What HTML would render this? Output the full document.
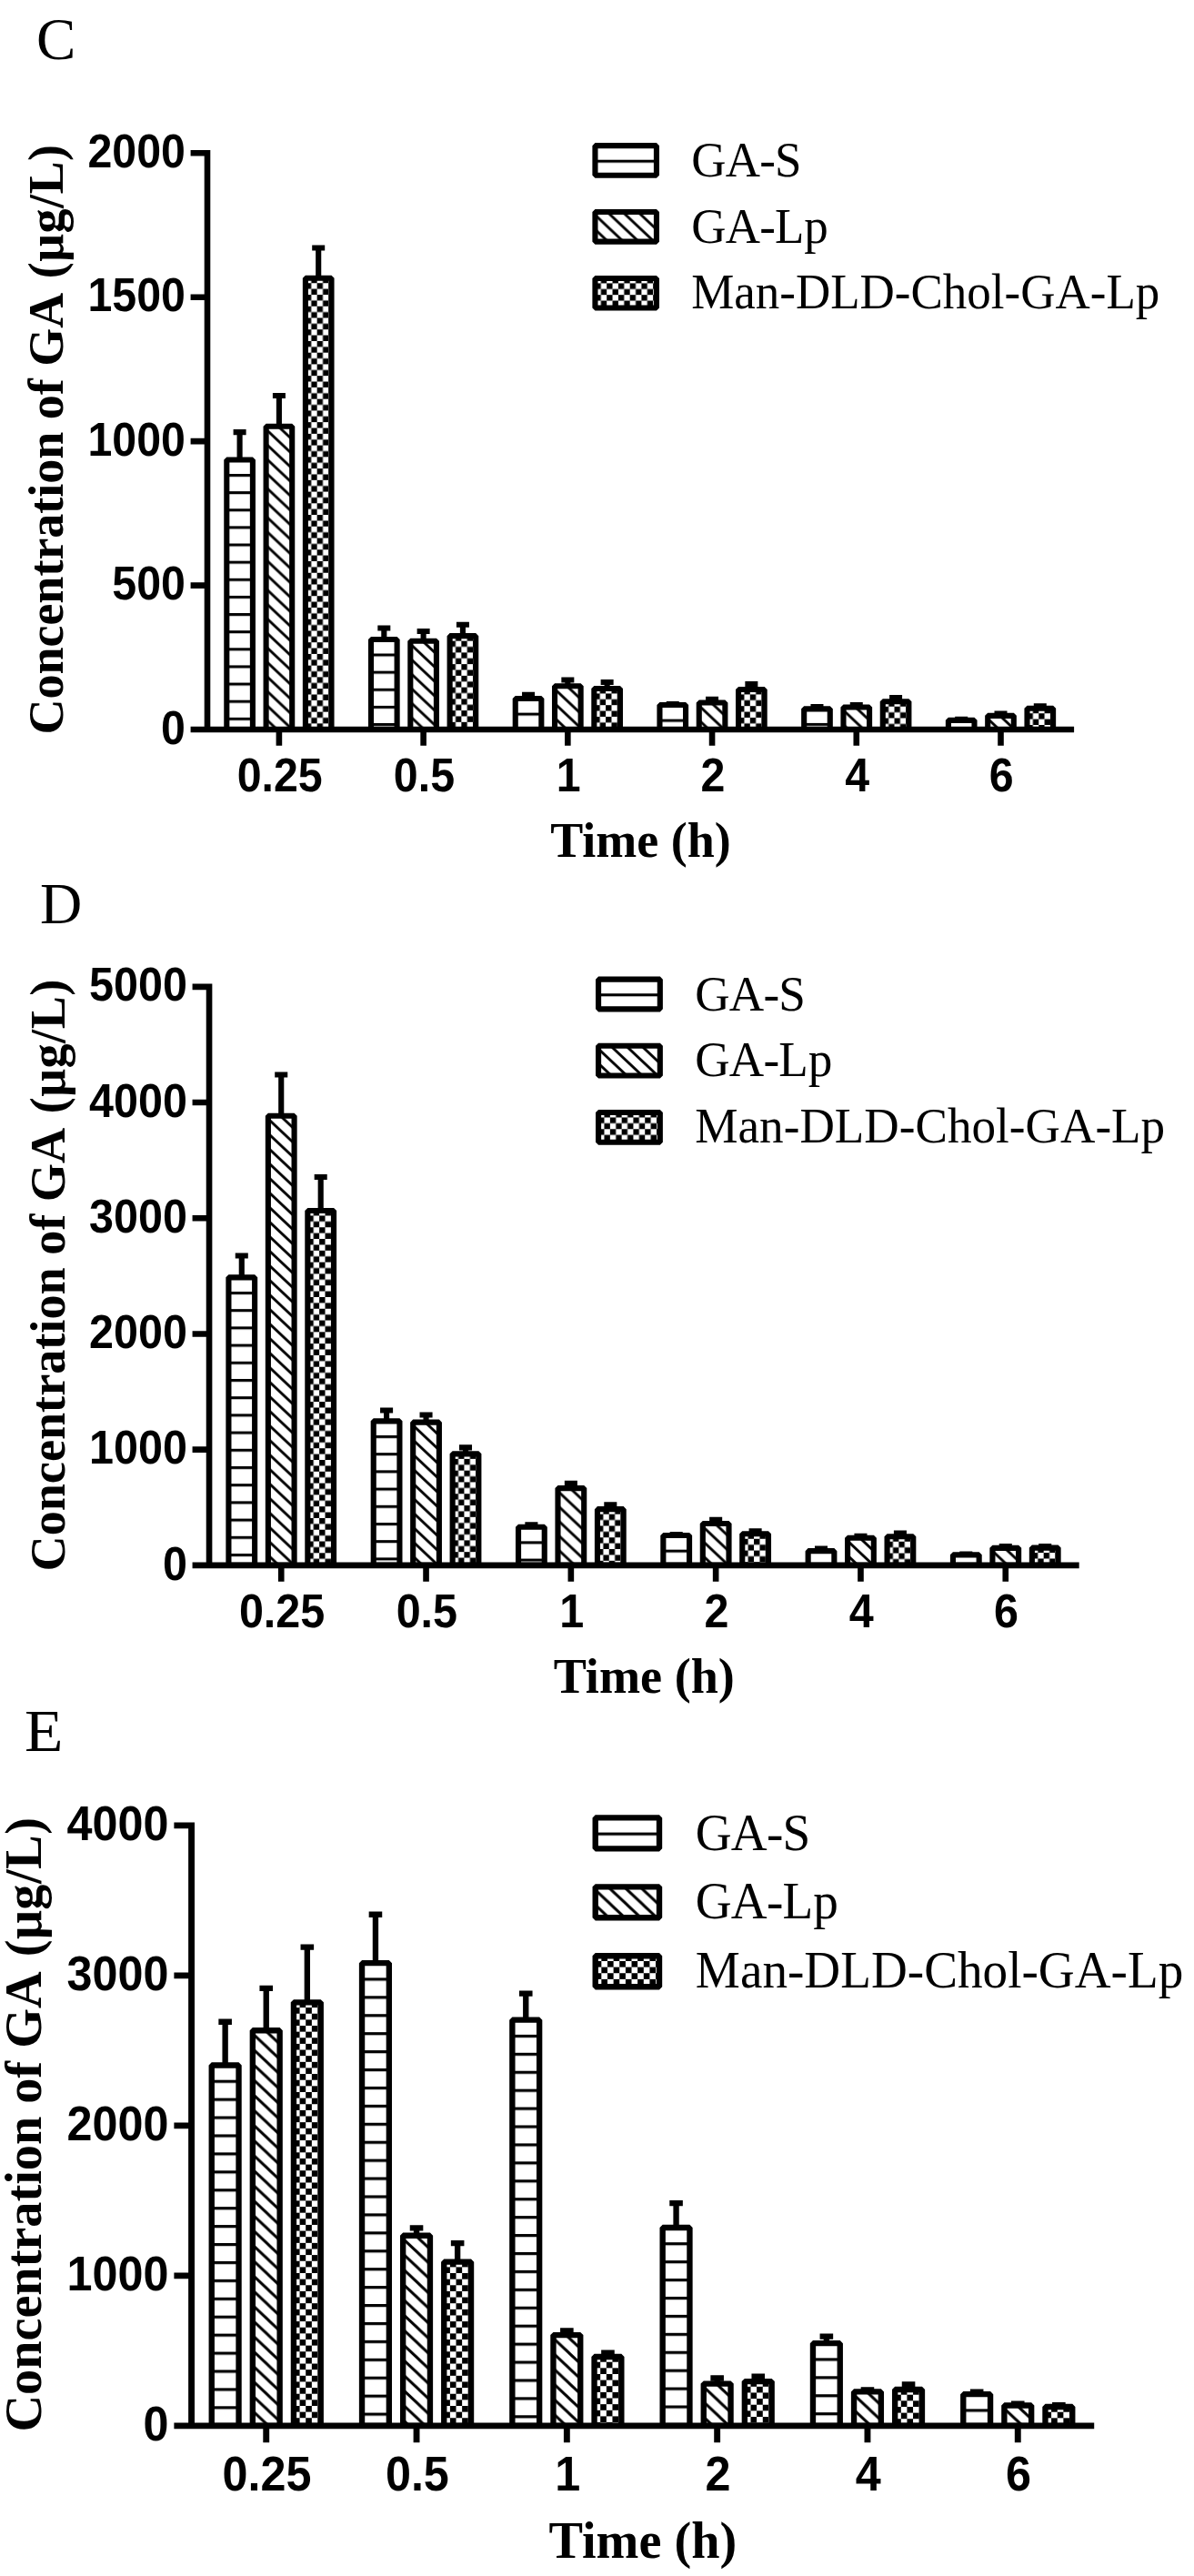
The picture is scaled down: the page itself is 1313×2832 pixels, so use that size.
<!DOCTYPE html>
<html lang="en"><head><meta charset="utf-8"><title>Concentration of GA</title>
<style>html,body{margin:0;padding:0;background:#fff}svg{display:block}.tk{font-family:"Liberation Sans",Arial,sans-serif;font-weight:700;font-size:48.3px}.tt{font-family:"Liberation Serif","Times New Roman",serif;font-weight:700;font-size:54px}.lg{font-family:"Liberation Serif","Times New Roman",serif;font-size:53px}.pl{font-family:"Liberation Serif","Times New Roman",serif}text{fill:#000}</style></head><body>
<svg width="1313" height="2832" viewBox="0 0 1313 2832">
<defs>
<pattern id="ph" patternUnits="userSpaceOnUse" width="40" height="19.13"><rect x="0" y="0" width="40" height="3.1" fill="#000"/></pattern>
<pattern id="pd" patternUnits="userSpaceOnUse" width="16.9" height="15.93"><path d="M-16.9 -15.93 L33.8 31.86 M-16.9 0 L16.9 31.86 M0 -15.93 L33.8 15.93" stroke="#000" stroke-width="2.9" fill="none"/></pattern>
<pattern id="pc" patternUnits="userSpaceOnUse" width="12.74" height="12.74"><rect x="0" y="0" width="6.37" height="6.37" fill="#000"/><rect x="6.37" y="6.37" width="6.37" height="6.37" fill="#000"/></pattern>
</defs>
<rect width="1313" height="2832" fill="#fff"/>
<g transform="translate(0 0) scale(1.0000)">
<defs><pattern id="p1" href="#ph" x="0" y="521"/><pattern id="p2" href="#pd" x="292.6" y="472.05"/><pattern id="p3" href="#pc" x="335.9" y="311.25"/><pattern id="p4" href="#ph" x="0" y="718.5"/><pattern id="p5" href="#pd" x="451.32" y="708.05"/><pattern id="p6" href="#pc" x="494.62" y="704.65"/><pattern id="p7" href="#ph" x="0" y="783.6"/><pattern id="p8" href="#pd" x="610.04" y="757.55"/><pattern id="p9" href="#pc" x="653.34" y="762.45"/><pattern id="p10" href="#ph" x="0" y="790.6"/><pattern id="p11" href="#pd" x="768.76" y="775.85"/><pattern id="p12" href="#pc" x="812.06" y="763.45"/><pattern id="p13" href="#ph" x="0" y="794.9"/><pattern id="p14" href="#pd" x="927.48" y="780.85"/><pattern id="p15" href="#pc" x="970.78" y="776.75"/><pattern id="p16" href="#ph" x="0" y="807.4"/><pattern id="p17" href="#pd" x="1086.2" y="790.15"/><pattern id="p18" href="#pc" x="1129.5" y="784.25"/></defs>
<path d="M263.6 505.45 V475.15 M256.6 475.15 H270.6" stroke="#000" fill="none" stroke-width="6.1"/>
<rect x="249.3" y="505.45" width="28.6" height="296.55" fill="#fff"/>
<rect x="249.3" y="505.45" width="28.6" height="296.55" fill="url(#p1)" stroke="#000" stroke-width="6.1" stroke-linejoin="bevel"/>
<path d="M306.9 468.75 V434.95 M299.9 434.95 H313.9" stroke="#000" fill="none" stroke-width="6.1"/>
<rect x="292.6" y="468.75" width="28.6" height="333.25" fill="#fff"/>
<rect x="292.6" y="468.75" width="28.6" height="333.25" fill="url(#p2)" stroke="#000" stroke-width="6.1" stroke-linejoin="bevel"/>
<path d="M350.2 305.75 V272.55 M343.2 272.55 H357.2" stroke="#000" fill="none" stroke-width="6.1"/>
<rect x="335.9" y="305.75" width="28.6" height="496.25" fill="#fff"/>
<rect x="335.9" y="305.75" width="28.6" height="496.25" fill="url(#p3)" stroke="#000" stroke-width="6.1" stroke-linejoin="bevel"/>
<path d="M422.32 702.95 V690.45 M415.32 690.45 H429.32" stroke="#000" fill="none" stroke-width="6.1"/>
<rect x="408.02" y="702.95" width="28.6" height="99.05" fill="#fff"/>
<rect x="408.02" y="702.95" width="28.6" height="99.05" fill="url(#p4)" stroke="#000" stroke-width="6.1" stroke-linejoin="bevel"/>
<path d="M465.62 704.75 V694.05 M458.62 694.05 H472.62" stroke="#000" fill="none" stroke-width="6.1"/>
<rect x="451.32" y="704.75" width="28.6" height="97.25" fill="#fff"/>
<rect x="451.32" y="704.75" width="28.6" height="97.25" fill="url(#p5)" stroke="#000" stroke-width="6.1" stroke-linejoin="bevel"/>
<path d="M508.92 699.15 V686.75 M501.92 686.75 H515.92" stroke="#000" fill="none" stroke-width="6.1"/>
<rect x="494.62" y="699.15" width="28.6" height="102.85" fill="#fff"/>
<rect x="494.62" y="699.15" width="28.6" height="102.85" fill="url(#p6)" stroke="#000" stroke-width="6.1" stroke-linejoin="bevel"/>
<path d="M581.04 768.05 V763.85 M574.04 763.85 H588.04" stroke="#000" fill="none" stroke-width="6.1"/>
<rect x="566.74" y="768.05" width="28.6" height="33.95" fill="#fff"/>
<rect x="566.74" y="768.05" width="28.6" height="33.95" fill="url(#p7)" stroke="#000" stroke-width="6.1" stroke-linejoin="bevel"/>
<path d="M624.34 754.25 V747.55 M617.34 747.55 H631.34" stroke="#000" fill="none" stroke-width="6.1"/>
<rect x="610.04" y="754.25" width="28.6" height="47.75" fill="#fff"/>
<rect x="610.04" y="754.25" width="28.6" height="47.75" fill="url(#p8)" stroke="#000" stroke-width="6.1" stroke-linejoin="bevel"/>
<path d="M667.64 756.95 V750.05 M660.64 750.05 H674.64" stroke="#000" fill="none" stroke-width="6.1"/>
<rect x="653.34" y="756.95" width="28.6" height="45.05" fill="#fff"/>
<rect x="653.34" y="756.95" width="28.6" height="45.05" fill="url(#p9)" stroke="#000" stroke-width="6.1" stroke-linejoin="bevel"/>
<path d="M739.76 775.05 V773.95 M732.76 773.95 H746.76" stroke="#000" fill="none" stroke-width="6.1"/>
<rect x="725.46" y="775.05" width="28.6" height="26.95" fill="#fff"/>
<rect x="725.46" y="775.05" width="28.6" height="26.95" fill="url(#p10)" stroke="#000" stroke-width="6.1" stroke-linejoin="bevel"/>
<path d="M783.06 772.55 V768.85 M776.06 768.85 H790.06" stroke="#000" fill="none" stroke-width="6.1"/>
<rect x="768.76" y="772.55" width="28.6" height="29.45" fill="#fff"/>
<rect x="768.76" y="772.55" width="28.6" height="29.45" fill="url(#p11)" stroke="#000" stroke-width="6.1" stroke-linejoin="bevel"/>
<path d="M826.36 757.95 V752.05 M819.36 752.05 H833.36" stroke="#000" fill="none" stroke-width="6.1"/>
<rect x="812.06" y="757.95" width="28.6" height="44.05" fill="#fff"/>
<rect x="812.06" y="757.95" width="28.6" height="44.05" fill="url(#p12)" stroke="#000" stroke-width="6.1" stroke-linejoin="bevel"/>
<path d="M898.48 779.35 V777.15 M891.48 777.15 H905.48" stroke="#000" fill="none" stroke-width="6.1"/>
<rect x="884.18" y="779.35" width="28.6" height="22.65" fill="#fff"/>
<rect x="884.18" y="779.35" width="28.6" height="22.65" fill="url(#p13)" stroke="#000" stroke-width="6.1" stroke-linejoin="bevel"/>
<path d="M941.78 777.55 V775.15 M934.78 775.15 H948.78" stroke="#000" fill="none" stroke-width="6.1"/>
<rect x="927.48" y="777.55" width="28.6" height="24.45" fill="#fff"/>
<rect x="927.48" y="777.55" width="28.6" height="24.45" fill="url(#p14)" stroke="#000" stroke-width="6.1" stroke-linejoin="bevel"/>
<path d="M985.08 771.25 V767.15 M978.08 767.15 H992.08" stroke="#000" fill="none" stroke-width="6.1"/>
<rect x="970.78" y="771.25" width="28.6" height="30.75" fill="#fff"/>
<rect x="970.78" y="771.25" width="28.6" height="30.75" fill="url(#p15)" stroke="#000" stroke-width="6.1" stroke-linejoin="bevel"/>
<path d="M1057.2 791.85 V790.75 M1050.2 790.75 H1064.2" stroke="#000" fill="none" stroke-width="6.1"/>
<rect x="1042.9" y="791.85" width="28.6" height="10.15" fill="#fff"/>
<rect x="1042.9" y="791.85" width="28.6" height="10.15" fill="url(#p16)" stroke="#000" stroke-width="6.1" stroke-linejoin="bevel"/>
<path d="M1100.5 786.85 V784.45 M1093.5 784.45 H1107.5" stroke="#000" fill="none" stroke-width="6.1"/>
<rect x="1086.2" y="786.85" width="28.6" height="15.15" fill="#fff"/>
<rect x="1086.2" y="786.85" width="28.6" height="15.15" fill="url(#p17)" stroke="#000" stroke-width="6.1" stroke-linejoin="bevel"/>
<path d="M1143.8 778.75 V776.35 M1136.8 776.35 H1150.8" stroke="#000" fill="none" stroke-width="6.1"/>
<rect x="1129.5" y="778.75" width="28.6" height="23.25" fill="#fff"/>
<rect x="1129.5" y="778.75" width="28.6" height="23.25" fill="url(#p18)" stroke="#000" stroke-width="6.1" stroke-linejoin="bevel"/>
<path d="M209.6 168.3 H228 V802 M209.6 802 H1181.1" stroke="#000" stroke-width="6.6" fill="none" stroke-linejoin="miter"/>
<path d="M209.6 326.73 H228 M209.6 485.15 H228 M209.6 643.58 H228 M306.9 802 V819.7 M465.62 802 V819.7 M624.34 802 V819.7 M783.06 802 V819.7 M941.78 802 V819.7 M1100.5 802 V819.7" stroke="#000" stroke-width="6.6" fill="none"/>
<text class="tk" text-anchor="end" transform="translate(203.9 183.9) scale(1 1.06)">2000</text>
<text class="tk" text-anchor="end" transform="translate(203.9 342.33) scale(1 1.06)">1500</text>
<text class="tk" text-anchor="end" transform="translate(203.9 500.75) scale(1 1.06)">1000</text>
<text class="tk" text-anchor="end" transform="translate(203.9 659.18) scale(1 1.06)">500</text>
<text class="tk" text-anchor="end" transform="translate(203.9 817.6) scale(1 1.06)">0</text>
<text class="tk" text-anchor="middle" transform="translate(307.7 870.2) scale(1 1.06)">0.25</text>
<text class="tk" text-anchor="middle" transform="translate(466.42 870.2) scale(1 1.06)">0.5</text>
<text class="tk" text-anchor="middle" transform="translate(625.14 870.2) scale(1 1.06)">1</text>
<text class="tk" text-anchor="middle" transform="translate(783.86 870.2) scale(1 1.06)">2</text>
<text class="tk" text-anchor="middle" transform="translate(942.58 870.2) scale(1 1.06)">4</text>
<text class="tk" text-anchor="middle" transform="translate(1101.3 870.2) scale(1 1.06)">6</text>
<text class="tt" text-anchor="middle" x="704.5" y="941.6">Time (h)</text>
<text class="tt" transform="translate(68.9 807.6) rotate(-90)" x="0" y="0">Concentration of GA <tspan dx="5" letter-spacing="0.5">(μg/L)</tspan></text>
<defs><pattern id="p19" href="#ph" x="0" y="175.7"/></defs>
<rect x="654.45" y="160.15" width="67.5" height="32.6" fill="url(#p19)" stroke="#000" stroke-width="6.1" stroke-linejoin="bevel"/>
<text class="lg" transform="translate(760.2 194) scale(1 1.035)"><tspan letter-spacing="-0.8">GA-</tspan>S</text>
<defs><pattern id="p20" href="#pd" x="654.45" y="236.35"/></defs>
<rect x="654.45" y="233.05" width="67.5" height="32.6" fill="url(#p20)" stroke="#000" stroke-width="6.1" stroke-linejoin="bevel"/>
<text class="lg" transform="translate(760.2 266.6) scale(1 1.035)"><tspan letter-spacing="-0.8">GA-</tspan>Lp</text>
<defs><pattern id="p21" href="#pc" x="654.45" y="311.45"/></defs>
<rect x="654.45" y="305.95" width="67.5" height="32.6" fill="url(#p21)" stroke="#000" stroke-width="6.1" stroke-linejoin="bevel"/>
<text class="lg" transform="translate(760.2 339.2) scale(1 1.035)">Man-DLD-Chol-GA-Lp</text>
</g>
<text class="pl" font-size="65" transform="translate(40.1 64.75) scale(1 1)">C</text>
<g transform="translate(1.2 915.9) scale(1.0037)">
<defs><pattern id="p22" href="#ph" x="0" y="502.21"/><pattern id="p23" href="#pd" x="292.6" y="313.02"/><pattern id="p24" href="#pc" x="335.9" y="419.03"/><pattern id="p25" href="#ph" x="0" y="659.63"/><pattern id="p26" href="#pd" x="451.32" y="648.67"/><pattern id="p27" href="#pc" x="494.62" y="685.45"/><pattern id="p28" href="#ph" x="0" y="775.6"/><pattern id="p29" href="#pd" x="610.04" y="720.81"/><pattern id="p30" href="#pc" x="653.34" y="746.02"/><pattern id="p31" href="#ph" x="0" y="784.86"/><pattern id="p32" href="#pd" x="768.76" y="759.56"/><pattern id="p33" href="#pc" x="812.06" y="773.02"/><pattern id="p34" href="#ph" x="0" y="801.9"/><pattern id="p35" href="#pd" x="927.48" y="775.3"/><pattern id="p36" href="#pc" x="970.78" y="776.01"/><pattern id="p37" href="#ph" x="0" y="806.09"/><pattern id="p38" href="#pd" x="1086.2" y="786.36"/><pattern id="p39" href="#pc" x="1129.5" y="788.27"/></defs>
<path d="M263.6 486.66 V462.95 M256.6 462.95 H270.6" stroke="#000" fill="none" stroke-width="6.1"/>
<rect x="249.3" y="486.66" width="28.6" height="315.34" fill="#fff"/>
<rect x="249.3" y="486.66" width="28.6" height="315.34" fill="url(#p22)" stroke="#000" stroke-width="6.1" stroke-linejoin="bevel"/>
<path d="M306.9 309.72 V264.68 M299.9 264.68 H313.9" stroke="#000" fill="none" stroke-width="6.1"/>
<rect x="292.6" y="309.72" width="28.6" height="492.28" fill="#fff"/>
<rect x="292.6" y="309.72" width="28.6" height="492.28" fill="url(#p23)" stroke="#000" stroke-width="6.1" stroke-linejoin="bevel"/>
<path d="M350.2 413.53 V376.67 M343.2 376.67 H357.2" stroke="#000" fill="none" stroke-width="6.1"/>
<rect x="335.9" y="413.53" width="28.6" height="388.47" fill="#fff"/>
<rect x="335.9" y="413.53" width="28.6" height="388.47" fill="url(#p24)" stroke="#000" stroke-width="6.1" stroke-linejoin="bevel"/>
<path d="M422.32 644.08 V632.22 M415.32 632.22 H429.32" stroke="#000" fill="none" stroke-width="6.1"/>
<rect x="408.02" y="644.08" width="28.6" height="157.92" fill="#fff"/>
<rect x="408.02" y="644.08" width="28.6" height="157.92" fill="url(#p25)" stroke="#000" stroke-width="6.1" stroke-linejoin="bevel"/>
<path d="M465.62 645.37 V637.2 M458.62 637.2 H472.62" stroke="#000" fill="none" stroke-width="6.1"/>
<rect x="451.32" y="645.37" width="28.6" height="156.63" fill="#fff"/>
<rect x="451.32" y="645.37" width="28.6" height="156.63" fill="url(#p26)" stroke="#000" stroke-width="6.1" stroke-linejoin="bevel"/>
<path d="M508.92 679.95 V672.97 M501.92 672.97 H515.92" stroke="#000" fill="none" stroke-width="6.1"/>
<rect x="494.62" y="679.95" width="28.6" height="122.05" fill="#fff"/>
<rect x="494.62" y="679.95" width="28.6" height="122.05" fill="url(#p27)" stroke="#000" stroke-width="6.1" stroke-linejoin="bevel"/>
<path d="M581.04 760.05 V757.66 M574.04 757.66 H588.04" stroke="#000" fill="none" stroke-width="6.1"/>
<rect x="566.74" y="760.05" width="28.6" height="41.95" fill="#fff"/>
<rect x="566.74" y="760.05" width="28.6" height="41.95" fill="url(#p28)" stroke="#000" stroke-width="6.1" stroke-linejoin="bevel"/>
<path d="M624.34 717.51 V712.33 M617.34 712.33 H631.34" stroke="#000" fill="none" stroke-width="6.1"/>
<rect x="610.04" y="717.51" width="28.6" height="84.49" fill="#fff"/>
<rect x="610.04" y="717.51" width="28.6" height="84.49" fill="url(#p29)" stroke="#000" stroke-width="6.1" stroke-linejoin="bevel"/>
<path d="M667.64 740.52 V735.64 M660.64 735.64 H674.64" stroke="#000" fill="none" stroke-width="6.1"/>
<rect x="653.34" y="740.52" width="28.6" height="61.48" fill="#fff"/>
<rect x="653.34" y="740.52" width="28.6" height="61.48" fill="url(#p30)" stroke="#000" stroke-width="6.1" stroke-linejoin="bevel"/>
<path d="M739.76 769.31 V768.42 M732.76 768.42 H746.76" stroke="#000" fill="none" stroke-width="6.1"/>
<rect x="725.46" y="769.31" width="28.6" height="32.69" fill="#fff"/>
<rect x="725.46" y="769.31" width="28.6" height="32.69" fill="url(#p31)" stroke="#000" stroke-width="6.1" stroke-linejoin="bevel"/>
<path d="M783.06 756.26 V752.08 M776.06 752.08 H790.06" stroke="#000" fill="none" stroke-width="6.1"/>
<rect x="768.76" y="756.26" width="28.6" height="45.74" fill="#fff"/>
<rect x="768.76" y="756.26" width="28.6" height="45.74" fill="url(#p32)" stroke="#000" stroke-width="6.1" stroke-linejoin="bevel"/>
<path d="M826.36 767.52 V764.63 M819.36 764.63 H833.36" stroke="#000" fill="none" stroke-width="6.1"/>
<rect x="812.06" y="767.52" width="28.6" height="34.48" fill="#fff"/>
<rect x="812.06" y="767.52" width="28.6" height="34.48" fill="url(#p33)" stroke="#000" stroke-width="6.1" stroke-linejoin="bevel"/>
<path d="M898.48 786.35 V783.86 M891.48 783.86 H905.48" stroke="#000" fill="none" stroke-width="6.1"/>
<rect x="884.18" y="786.35" width="28.6" height="15.65" fill="#fff"/>
<rect x="884.18" y="786.35" width="28.6" height="15.65" fill="url(#p34)" stroke="#000" stroke-width="6.1" stroke-linejoin="bevel"/>
<path d="M941.78 772 V770.11 M934.78 770.11 H948.78" stroke="#000" fill="none" stroke-width="6.1"/>
<rect x="927.48" y="772" width="28.6" height="30" fill="#fff"/>
<rect x="927.48" y="772" width="28.6" height="30" fill="url(#p35)" stroke="#000" stroke-width="6.1" stroke-linejoin="bevel"/>
<path d="M985.08 770.51 V766.92 M978.08 766.92 H992.08" stroke="#000" fill="none" stroke-width="6.1"/>
<rect x="970.78" y="770.51" width="28.6" height="31.49" fill="#fff"/>
<rect x="970.78" y="770.51" width="28.6" height="31.49" fill="url(#p36)" stroke="#000" stroke-width="6.1" stroke-linejoin="bevel"/>
<path d="M1057.2 790.54 V789.64 M1050.2 789.64 H1064.2" stroke="#000" fill="none" stroke-width="6.1"/>
<rect x="1042.9" y="790.54" width="28.6" height="11.46" fill="#fff"/>
<rect x="1042.9" y="790.54" width="28.6" height="11.46" fill="url(#p37)" stroke="#000" stroke-width="6.1" stroke-linejoin="bevel"/>
<path d="M1100.5 783.06 V781.37 M1093.5 781.37 H1107.5" stroke="#000" fill="none" stroke-width="6.1"/>
<rect x="1086.2" y="783.06" width="28.6" height="18.94" fill="#fff"/>
<rect x="1086.2" y="783.06" width="28.6" height="18.94" fill="url(#p38)" stroke="#000" stroke-width="6.1" stroke-linejoin="bevel"/>
<path d="M1143.8 782.77 V781.37 M1136.8 781.37 H1150.8" stroke="#000" fill="none" stroke-width="6.1"/>
<rect x="1129.5" y="782.77" width="28.6" height="19.23" fill="#fff"/>
<rect x="1129.5" y="782.77" width="28.6" height="19.23" fill="url(#p39)" stroke="#000" stroke-width="6.1" stroke-linejoin="bevel"/>
<path d="M209.6 168.3 H228 V802 M209.6 802 H1181.1" stroke="#000" stroke-width="6.6" fill="none" stroke-linejoin="miter"/>
<path d="M209.6 295.04 H228 M209.6 421.78 H228 M209.6 548.52 H228 M209.6 675.26 H228 M306.9 802 V819.7 M465.62 802 V819.7 M624.34 802 V819.7 M783.06 802 V819.7 M941.78 802 V819.7 M1100.5 802 V819.7" stroke="#000" stroke-width="6.6" fill="none"/>
<text class="tk" text-anchor="end" transform="translate(203.9 183.9) scale(1 1.06)">5000</text>
<text class="tk" text-anchor="end" transform="translate(203.9 310.64) scale(1 1.06)">4000</text>
<text class="tk" text-anchor="end" transform="translate(203.9 437.38) scale(1 1.06)">3000</text>
<text class="tk" text-anchor="end" transform="translate(203.9 564.12) scale(1 1.06)">2000</text>
<text class="tk" text-anchor="end" transform="translate(203.9 690.86) scale(1 1.06)">1000</text>
<text class="tk" text-anchor="end" transform="translate(203.9 817.6) scale(1 1.06)">0</text>
<text class="tk" text-anchor="middle" transform="translate(307.7 870.2) scale(1 1.06)">0.25</text>
<text class="tk" text-anchor="middle" transform="translate(466.42 870.2) scale(1 1.06)">0.5</text>
<text class="tk" text-anchor="middle" transform="translate(625.14 870.2) scale(1 1.06)">1</text>
<text class="tk" text-anchor="middle" transform="translate(783.86 870.2) scale(1 1.06)">2</text>
<text class="tk" text-anchor="middle" transform="translate(942.58 870.2) scale(1 1.06)">4</text>
<text class="tk" text-anchor="middle" transform="translate(1101.3 870.2) scale(1 1.06)">6</text>
<text class="tt" text-anchor="middle" x="704.5" y="941.6">Time (h)</text>
<text class="tt" transform="translate(69.8 808.6) rotate(-90)" x="0" y="0">Concentration of GA <tspan dx="5" letter-spacing="0.5">(μg/L)</tspan></text>
<defs><pattern id="p40" href="#ph" x="0" y="175.7"/></defs>
<rect x="654.45" y="160.15" width="67.5" height="32.6" fill="url(#p40)" stroke="#000" stroke-width="6.1" stroke-linejoin="bevel"/>
<text class="lg" transform="translate(760.2 194) scale(1 1.035)"><tspan letter-spacing="-0.8">GA-</tspan>S</text>
<defs><pattern id="p41" href="#pd" x="654.45" y="236.35"/></defs>
<rect x="654.45" y="233.05" width="67.5" height="32.6" fill="url(#p41)" stroke="#000" stroke-width="6.1" stroke-linejoin="bevel"/>
<text class="lg" transform="translate(760.2 266.6) scale(1 1.035)"><tspan letter-spacing="-0.8">GA-</tspan>Lp</text>
<defs><pattern id="p42" href="#pc" x="654.45" y="311.45"/></defs>
<rect x="654.45" y="305.95" width="67.5" height="32.6" fill="url(#p42)" stroke="#000" stroke-width="6.1" stroke-linejoin="bevel"/>
<text class="lg" transform="translate(760.2 339.2) scale(1 1.035)">Man-DLD-Chol-GA-Lp</text>
</g>
<text class="pl" font-size="64" transform="translate(44 1015.2) scale(1 1)">D</text>
<g transform="translate(-26.9 1831.6) scale(1.0415)">
<defs><pattern id="p43" href="#ph" x="0" y="436.94"/><pattern id="p44" href="#pd" x="292.6" y="388.01"/><pattern id="p45" href="#pc" x="335.9" y="360.54"/><pattern id="p46" href="#ph" x="0" y="329.11"/><pattern id="p47" href="#pd" x="451.32" y="604.53"/><pattern id="p48" href="#pc" x="494.62" y="634.47"/><pattern id="p49" href="#ph" x="0" y="389.12"/><pattern id="p50" href="#pd" x="610.04" y="709.47"/><pattern id="p51" href="#pc" x="653.34" y="734.62"/><pattern id="p52" href="#ph" x="0" y="608.33"/><pattern id="p53" href="#pd" x="768.76" y="760.84"/><pattern id="p54" href="#pc" x="812.06" y="760.64"/><pattern id="p55" href="#ph" x="0" y="730.46"/><pattern id="p56" href="#pd" x="927.48" y="769.29"/><pattern id="p57" href="#pc" x="970.78" y="769.18"/><pattern id="p58" href="#ph" x="0" y="784.23"/><pattern id="p59" href="#pd" x="1086.2" y="783.79"/><pattern id="p60" href="#pc" x="1129.5" y="787.43"/></defs>
<path d="M263.6 421.39 V375.59 M256.6 375.59 H270.6" stroke="#000" fill="none" stroke-width="6.1"/>
<rect x="249.3" y="421.39" width="28.6" height="380.61" fill="#fff"/>
<rect x="249.3" y="421.39" width="28.6" height="380.61" fill="url(#p43)" stroke="#000" stroke-width="6.1" stroke-linejoin="bevel"/>
<path d="M306.9 384.71 V340.16 M299.9 340.16 H313.9" stroke="#000" fill="none" stroke-width="6.1"/>
<rect x="292.6" y="384.71" width="28.6" height="417.29" fill="#fff"/>
<rect x="292.6" y="384.71" width="28.6" height="417.29" fill="url(#p44)" stroke="#000" stroke-width="6.1" stroke-linejoin="bevel"/>
<path d="M350.2 355.04 V296.76 M343.2 296.76 H357.2" stroke="#000" fill="none" stroke-width="6.1"/>
<rect x="335.9" y="355.04" width="28.6" height="446.96" fill="#fff"/>
<rect x="335.9" y="355.04" width="28.6" height="446.96" fill="url(#p45)" stroke="#000" stroke-width="6.1" stroke-linejoin="bevel"/>
<path d="M422.32 313.56 V262.3 M415.32 262.3 H429.32" stroke="#000" fill="none" stroke-width="6.1"/>
<rect x="408.02" y="313.56" width="28.6" height="488.44" fill="#fff"/>
<rect x="408.02" y="313.56" width="28.6" height="488.44" fill="url(#p46)" stroke="#000" stroke-width="6.1" stroke-linejoin="bevel"/>
<path d="M465.62 601.23 V593.16 M458.62 593.16 H472.62" stroke="#000" fill="none" stroke-width="6.1"/>
<rect x="451.32" y="601.23" width="28.6" height="200.77" fill="#fff"/>
<rect x="451.32" y="601.23" width="28.6" height="200.77" fill="url(#p47)" stroke="#000" stroke-width="6.1" stroke-linejoin="bevel"/>
<path d="M508.92 628.97 V609.29 M501.92 609.29 H515.92" stroke="#000" fill="none" stroke-width="6.1"/>
<rect x="494.62" y="628.97" width="28.6" height="173.03" fill="#fff"/>
<rect x="494.62" y="628.97" width="28.6" height="173.03" fill="url(#p48)" stroke="#000" stroke-width="6.1" stroke-linejoin="bevel"/>
<path d="M581.04 373.57 V345.64 M574.04 345.64 H588.04" stroke="#000" fill="none" stroke-width="6.1"/>
<rect x="566.74" y="373.57" width="28.6" height="428.43" fill="#fff"/>
<rect x="566.74" y="373.57" width="28.6" height="428.43" fill="url(#p49)" stroke="#000" stroke-width="6.1" stroke-linejoin="bevel"/>
<path d="M624.34 706.17 V701.66 M617.34 701.66 H631.34" stroke="#000" fill="none" stroke-width="6.1"/>
<rect x="610.04" y="706.17" width="28.6" height="95.83" fill="#fff"/>
<rect x="610.04" y="706.17" width="28.6" height="95.83" fill="url(#p50)" stroke="#000" stroke-width="6.1" stroke-linejoin="bevel"/>
<path d="M667.64 729.12 V725.09 M660.64 725.09 H674.64" stroke="#000" fill="none" stroke-width="6.1"/>
<rect x="653.34" y="729.12" width="28.6" height="72.88" fill="#fff"/>
<rect x="653.34" y="729.12" width="28.6" height="72.88" fill="url(#p51)" stroke="#000" stroke-width="6.1" stroke-linejoin="bevel"/>
<path d="M739.76 592.78 V567.05 M732.76 567.05 H746.76" stroke="#000" fill="none" stroke-width="6.1"/>
<rect x="725.46" y="592.78" width="28.6" height="209.22" fill="#fff"/>
<rect x="725.46" y="592.78" width="28.6" height="209.22" fill="url(#p52)" stroke="#000" stroke-width="6.1" stroke-linejoin="bevel"/>
<path d="M783.06 757.54 V751.69 M776.06 751.69 H790.06" stroke="#000" fill="none" stroke-width="6.1"/>
<rect x="768.76" y="757.54" width="28.6" height="44.46" fill="#fff"/>
<rect x="768.76" y="757.54" width="28.6" height="44.46" fill="url(#p53)" stroke="#000" stroke-width="6.1" stroke-linejoin="bevel"/>
<path d="M826.36 755.14 V749.96 M819.36 749.96 H833.36" stroke="#000" fill="none" stroke-width="6.1"/>
<rect x="812.06" y="755.14" width="28.6" height="46.86" fill="#fff"/>
<rect x="812.06" y="755.14" width="28.6" height="46.86" fill="url(#p54)" stroke="#000" stroke-width="6.1" stroke-linejoin="bevel"/>
<path d="M898.48 714.91 V707.71 M891.48 707.71 H905.48" stroke="#000" fill="none" stroke-width="6.1"/>
<rect x="884.18" y="714.91" width="28.6" height="87.09" fill="#fff"/>
<rect x="884.18" y="714.91" width="28.6" height="87.09" fill="url(#p55)" stroke="#000" stroke-width="6.1" stroke-linejoin="bevel"/>
<path d="M941.78 765.99 V764.17 M934.78 764.17 H948.78" stroke="#000" fill="none" stroke-width="6.1"/>
<rect x="927.48" y="765.99" width="28.6" height="36.01" fill="#fff"/>
<rect x="927.48" y="765.99" width="28.6" height="36.01" fill="url(#p56)" stroke="#000" stroke-width="6.1" stroke-linejoin="bevel"/>
<path d="M985.08 763.68 V758.41 M978.08 758.41 H992.08" stroke="#000" fill="none" stroke-width="6.1"/>
<rect x="970.78" y="763.68" width="28.6" height="38.32" fill="#fff"/>
<rect x="970.78" y="763.68" width="28.6" height="38.32" fill="url(#p57)" stroke="#000" stroke-width="6.1" stroke-linejoin="bevel"/>
<path d="M1057.2 768.68 V766.38 M1050.2 766.38 H1064.2" stroke="#000" fill="none" stroke-width="6.1"/>
<rect x="1042.9" y="768.68" width="28.6" height="33.32" fill="#fff"/>
<rect x="1042.9" y="768.68" width="28.6" height="33.32" fill="url(#p58)" stroke="#000" stroke-width="6.1" stroke-linejoin="bevel"/>
<path d="M1100.5 780.49 V778.86 M1093.5 778.86 H1107.5" stroke="#000" fill="none" stroke-width="6.1"/>
<rect x="1086.2" y="780.49" width="28.6" height="21.51" fill="#fff"/>
<rect x="1086.2" y="780.49" width="28.6" height="21.51" fill="url(#p59)" stroke="#000" stroke-width="6.1" stroke-linejoin="bevel"/>
<path d="M1143.8 781.93 V780.11 M1136.8 780.11 H1150.8" stroke="#000" fill="none" stroke-width="6.1"/>
<rect x="1129.5" y="781.93" width="28.6" height="20.07" fill="#fff"/>
<rect x="1129.5" y="781.93" width="28.6" height="20.07" fill="url(#p60)" stroke="#000" stroke-width="6.1" stroke-linejoin="bevel"/>
<path d="M209.6 168.3 H228 V802 M209.6 802 H1181.1" stroke="#000" stroke-width="6.6" fill="none" stroke-linejoin="miter"/>
<path d="M209.6 326.73 H228 M209.6 485.15 H228 M209.6 643.58 H228 M306.9 802 V819.7 M465.62 802 V819.7 M624.34 802 V819.7 M783.06 802 V819.7 M941.78 802 V819.7 M1100.5 802 V819.7" stroke="#000" stroke-width="6.6" fill="none"/>
<text class="tk" text-anchor="end" transform="translate(203.9 183.9) scale(1 1.06)">4000</text>
<text class="tk" text-anchor="end" transform="translate(203.9 342.33) scale(1 1.06)">3000</text>
<text class="tk" text-anchor="end" transform="translate(203.9 500.75) scale(1 1.06)">2000</text>
<text class="tk" text-anchor="end" transform="translate(203.9 659.18) scale(1 1.06)">1000</text>
<text class="tk" text-anchor="end" transform="translate(203.9 817.6) scale(1 1.06)">0</text>
<text class="tk" text-anchor="middle" transform="translate(307.7 870.2) scale(1 1.06)">0.25</text>
<text class="tk" text-anchor="middle" transform="translate(466.42 870.2) scale(1 1.06)">0.5</text>
<text class="tk" text-anchor="middle" transform="translate(625.14 870.2) scale(1 1.06)">1</text>
<text class="tk" text-anchor="middle" transform="translate(783.86 870.2) scale(1 1.06)">2</text>
<text class="tk" text-anchor="middle" transform="translate(942.58 870.2) scale(1 1.06)">4</text>
<text class="tk" text-anchor="middle" transform="translate(1101.3 870.2) scale(1 1.06)">6</text>
<text class="tt" text-anchor="middle" x="704.5" y="941.6">Time (h)</text>
<text class="tt" transform="translate(69.3 808.4) rotate(-90)" x="0" y="0">Concentration of GA <tspan dx="5" letter-spacing="0.5">(μg/L)</tspan></text>
<defs><pattern id="p61" href="#ph" x="0" y="175.7"/></defs>
<rect x="654.45" y="160.15" width="67.5" height="32.6" fill="url(#p61)" stroke="#000" stroke-width="6.1" stroke-linejoin="bevel"/>
<text class="lg" transform="translate(760.2 194) scale(1 1.035)"><tspan letter-spacing="-0.8">GA-</tspan>S</text>
<defs><pattern id="p62" href="#pd" x="654.45" y="236.35"/></defs>
<rect x="654.45" y="233.05" width="67.5" height="32.6" fill="url(#p62)" stroke="#000" stroke-width="6.1" stroke-linejoin="bevel"/>
<text class="lg" transform="translate(760.2 266.6) scale(1 1.035)"><tspan letter-spacing="-0.8">GA-</tspan>Lp</text>
<defs><pattern id="p63" href="#pc" x="654.45" y="311.45"/></defs>
<rect x="654.45" y="305.95" width="67.5" height="32.6" fill="url(#p63)" stroke="#000" stroke-width="6.1" stroke-linejoin="bevel"/>
<text class="lg" transform="translate(760.2 339.2) scale(1 1.035)">Man-DLD-Chol-GA-Lp</text>
</g>
<text class="pl" font-size="65.5" transform="translate(26.9 1925.2) scale(1.06 1)">E</text>
</svg></body></html>
